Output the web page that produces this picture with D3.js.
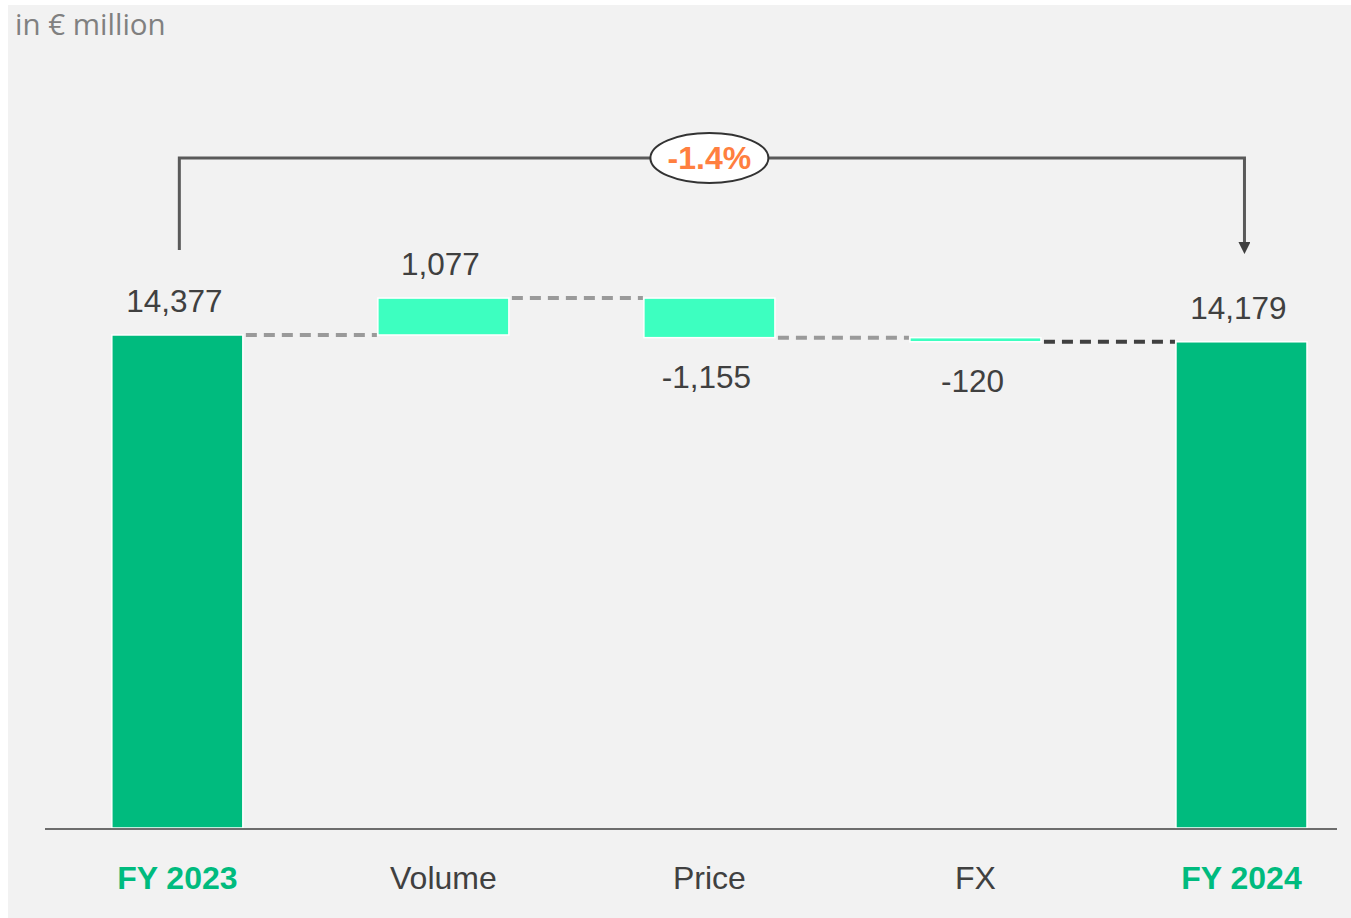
<!DOCTYPE html>
<html>
<head>
<meta charset="utf-8">
<script src="https://cdn.jsdelivr.net/npm/d3@7"></script>
<style>
  html, body { margin: 0; padding: 0; background: #ffffff; }
  svg { display: block; }
</style>
</head>
<body>
<div id="chart"></div>
<script>
// waterfall: FY 2023 -> FY 2024 bridge
var categories = ['FY 2023', 'Volume', 'Price', 'FX', 'FY 2024'];
var values = [14377, 1077, -1155, -120, 14179];
var kinds = ['total', 'delta', 'delta', 'delta', 'total'];
var valueLabels = ['14,377', '1,077', '-1,155', '-120', '14,179'];
var changeLabel = '-1.4%';
var unitLabel = 'in \u20ac million';

var width = 1351, height = 918;
var green = '#00bb7e', mint = '#3dffc0', textCol = '#404040';
var fontFamily = 'Liberation Sans, Arial, sans-serif';

var svg = d3.select('#chart').append('svg')
	.attr('width', width)
	.attr('height', height);

svg.append('rect')
	.attr('x', 8).attr('y', 5)
	.attr('width', width - 8).attr('height', height - 5)
	.attr('fill', '#f2f2f2');

var x = d3.scaleBand()
	.domain(categories)
	.range([45, 1337])
	.paddingInner(0.5075)
	.paddingOuter(0.182)
	.align(0.69);

var y = d3.scaleLinear()
	.domain([0, 24000])
	.range([828, 5]);

// running totals for each step
var steps = [];
var running = 0;
values.forEach(function(v, i)
{
	var s = { name: categories[i], value: v, kind: kinds[i], label: valueLabels[i] };
	if (kinds[i] == 'total')
	{
		s.start = 0; s.end = v; running = v;
	}
	else
	{
		s.start = running; s.end = running + v; running = s.end;
	}
	steps.push(s);
});

// connectors
for (var i = 0; i < steps.length - 1; i++)
{
	var level = steps[i].end;
	svg.append('line')
		.attr('x1', x(steps[i].name) + x.bandwidth() + 3)
		.attr('x2', x(steps[i + 1].name) - 1)
		.attr('y1', y(level))
		.attr('y2', y(level))
		.attr('stroke', i == steps.length - 2 ? '#404040' : '#9a9a9a')
		.attr('stroke-width', 4)
		.attr('stroke-dasharray', '11,7');
}

// bars
svg.selectAll('rect.bar')
	.data(steps)
	.enter().append('rect')
	.attr('class', 'bar')
	.attr('x', function(d) { return x(d.name); })
	.attr('width', x.bandwidth())
	.attr('y', function(d) { return y(Math.max(d.start, d.end)); })
	.attr('height', function(d) { return Math.max(2, Math.abs(y(d.start) - y(d.end))); })
	.attr('fill', function(d) { return d.kind == 'total' ? green : mint; })
	.attr('stroke', '#ffffff')
	.attr('stroke-width', 1.5);

// value labels
svg.selectAll('text.val')
	.data(steps)
	.enter().append('text')
	.attr('class', 'val')
	.attr('x', function(d) { return x(d.name) + x.bandwidth() / 2 - 3; })
	.attr('y', function(d)
	{
		if (d.kind == 'total' || d.value > 0) return y(Math.max(d.start, d.end)) - 23;
		return y(Math.min(d.start, d.end)) + 50;
	})
	.attr('text-anchor', 'middle')
	.attr('font-family', fontFamily)
	.attr('font-size', 31.5)
	.attr('fill', textCol)
	.text(function(d) { return d.label; });

// axis
var axis = svg.append('g')
	.attr('transform', 'translate(0,' + 829 + ')')
	.call(d3.axisBottom(x).tickSize(0).tickPadding(37));
axis.select('.domain').attr('d', 'M45,0H1337').attr('stroke', '#404040').attr('stroke-width', 1.5);
axis.selectAll('text')
	.attr('font-family', fontFamily)
	.attr('font-size', 32)
	.attr('dy', '0.71em')
	.attr('fill', function(d) { return d.indexOf('FY') == 0 ? green : textCol; })
	.attr('font-weight', function(d) { return d.indexOf('FY') == 0 ? 'bold' : 'normal'; });

// bracket with change
var xa = x(categories[0]) + x.bandwidth() / 2 + 2;
var xb = x(categories[4]) + x.bandwidth() / 2 + 3;
var yTop = 158;
svg.append('defs').append('marker')
	.attr('id', 'arr')
	.attr('viewBox', '0 0 10 10')
	.attr('refX', 5).attr('refY', 5)
	.attr('markerWidth', 4).attr('markerHeight', 4)
	.attr('orient', 'auto')
	.append('path')
	.attr('d', 'M0,0L10,5L0,10z')
	.attr('fill', '#404040');

svg.append('path')
	.attr('d', 'M' + xa + ',' + 250 + 'V' + yTop + 'H' + xb + 'V' + 248)
	.attr('fill', 'none')
	.attr('stroke', '#5a5a5a')
	.attr('stroke-width', 3)
	.attr('marker-end', 'url(#arr)');

var xm = x(categories[2]) + x.bandwidth() / 2;
svg.append('ellipse')
	.attr('cx', xm).attr('cy', yTop)
	.attr('rx', 59).attr('ry', 25)
	.attr('fill', '#ffffff')
	.attr('stroke', '#333333')
	.attr('stroke-width', 2);
svg.append('text')
	.attr('x', xm).attr('y', yTop + 11)
	.attr('text-anchor', 'middle')
	.attr('font-family', fontFamily)
	.attr('font-weight', 'bold')
	.attr('font-size', 32)
	.attr('fill', '#ff7f3f')
	.text(changeLabel);

svg.append('text')
	.attr('x', 15).attr('y', 35)
	.attr('font-family', 'Open Sans, sans-serif')
	.attr('font-size', 29.5)
	.attr('fill', '#808080')
	.text(unitLabel);
</script>
</body>
</html>
